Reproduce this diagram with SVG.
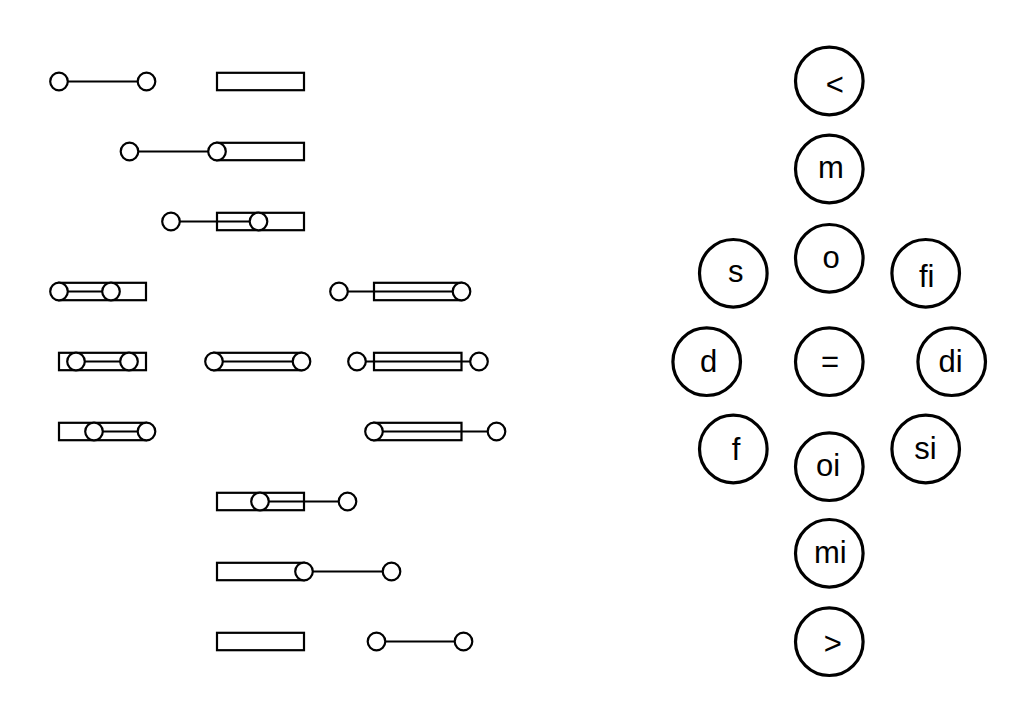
<svg xmlns="http://www.w3.org/2000/svg" width="1019" height="716" viewBox="0 0 1019 716">
<style>
.b{fill:#fff;stroke:#000;stroke-width:2.2}
.a{stroke:#000;stroke-width:2.2;fill:none}
.p{fill:#fff;stroke:#000;stroke-width:2.2}
.n{fill:#fff;stroke:#000;stroke-width:3.2}
.t{font-family:"Liberation Sans",Arial,sans-serif;font-size:31px;fill:#000;text-anchor:middle}
</style>
<rect width="1019" height="716" fill="#fff"/>
<g id="intervals">
<g id="r-before"><rect class="b" x="217" y="72.8" width="87" height="17.4"/><line class="a" x1="59" y1="81.5" x2="146.5" y2="81.5"/><circle class="p" cx="59" cy="81.5" r="8.8"/><circle class="p" cx="146.5" cy="81.5" r="8.8"/></g>
<g id="r-meets"><rect class="b" x="217" y="142.8" width="87" height="17.4"/><line class="a" x1="129.5" y1="151.5" x2="217" y2="151.5"/><circle class="p" cx="129.5" cy="151.5" r="8.8"/><circle class="p" cx="217" cy="151.5" r="8.8"/></g>
<g id="r-overlaps"><rect class="b" x="217" y="212.8" width="87" height="17.4"/><line class="a" x1="171" y1="221.5" x2="258.5" y2="221.5"/><circle class="p" cx="171" cy="221.5" r="8.8"/><circle class="p" cx="258.5" cy="221.5" r="8.8"/></g>
<g id="r-starts"><rect class="b" x="59" y="282.8" width="87" height="17.4"/><line class="a" x1="59" y1="291.5" x2="111" y2="291.5"/><circle class="p" cx="59" cy="291.5" r="8.8"/><circle class="p" cx="111" cy="291.5" r="8.8"/></g>
<g id="r-finishedby"><rect class="b" x="374" y="282.8" width="87.5" height="17.4"/><line class="a" x1="339" y1="291.5" x2="461.5" y2="291.5"/><circle class="p" cx="339" cy="291.5" r="8.8"/><circle class="p" cx="461.5" cy="291.5" r="8.8"/></g>
<g id="r-during"><rect class="b" x="59" y="352.8" width="87" height="17.4"/><line class="a" x1="76" y1="361.5" x2="129" y2="361.5"/><circle class="p" cx="76" cy="361.5" r="8.8"/><circle class="p" cx="129" cy="361.5" r="8.8"/></g>
<g id="r-equal"><rect class="b" x="214" y="352.8" width="87.5" height="17.4"/><line class="a" x1="214" y1="361.5" x2="301.5" y2="361.5"/><circle class="p" cx="214" cy="361.5" r="8.8"/><circle class="p" cx="301.5" cy="361.5" r="8.8"/></g>
<g id="r-contains"><rect class="b" x="374" y="352.8" width="87.5" height="17.4"/><line class="a" x1="357" y1="361.5" x2="479" y2="361.5"/><circle class="p" cx="357" cy="361.5" r="8.8"/><circle class="p" cx="479" cy="361.5" r="8.8"/></g>
<g id="r-finishes"><rect class="b" x="59" y="422.8" width="87" height="17.4"/><line class="a" x1="94" y1="431.5" x2="146.5" y2="431.5"/><circle class="p" cx="94" cy="431.5" r="8.8"/><circle class="p" cx="146.5" cy="431.5" r="8.8"/></g>
<g id="r-startedby"><rect class="b" x="374" y="422.8" width="87.5" height="17.4"/><line class="a" x1="374" y1="431.5" x2="496.5" y2="431.5"/><circle class="p" cx="374" cy="431.5" r="8.8"/><circle class="p" cx="496.5" cy="431.5" r="8.8"/></g>
<g id="r-overlappedby"><rect class="b" x="217" y="492.8" width="87" height="17.4"/><line class="a" x1="260" y1="501.5" x2="347.5" y2="501.5"/><circle class="p" cx="260" cy="501.5" r="8.8"/><circle class="p" cx="347.5" cy="501.5" r="8.8"/></g>
<g id="r-metby"><rect class="b" x="217" y="562.8" width="87" height="17.4"/><line class="a" x1="304" y1="571.5" x2="391.5" y2="571.5"/><circle class="p" cx="304" cy="571.5" r="8.8"/><circle class="p" cx="391.5" cy="571.5" r="8.8"/></g>
<g id="r-after"><rect class="b" x="217" y="632.8" width="87" height="17.4"/><line class="a" x1="376.5" y1="641.5" x2="463.5" y2="641.5"/><circle class="p" cx="376.5" cy="641.5" r="8.8"/><circle class="p" cx="463.5" cy="641.5" r="8.8"/></g>
</g>
<g id="connectors"></g>
<g id="n-lt"><circle class="n" cx="829.3" cy="81" r="33.8"/><text class="t" x="834.7" y="95">&lt;</text></g>
<g id="n-m"><circle class="n" cx="829.3" cy="169" r="33.8"/><text class="t" x="830.8" y="178.3">m</text></g>
<g id="n-o"><circle class="n" cx="829.3" cy="258.3" r="33.8"/><text class="t" x="831.2" y="268.3">o</text></g>
<g id="n-s"><circle class="n" cx="733.3" cy="273.3" r="33.8"/><text class="t" x="735.8" y="281.7">s</text></g>
<g id="n-fi"><circle class="n" cx="925.7" cy="273.3" r="33.8"/><text class="t" x="926.7" y="286.7">fi</text></g>
<g id="n-d"><circle class="n" cx="706.7" cy="361.7" r="33.8"/><text class="t" x="708.7" y="371.7">d</text></g>
<g id="n-eq"><circle class="n" cx="829.3" cy="361.7" r="33.8"/><text class="t" x="830" y="372">=</text></g>
<g id="n-di"><circle class="n" cx="951.7" cy="361.7" r="33.8"/><text class="t" x="950.5" y="371.7">di</text></g>
<g id="n-f"><circle class="n" cx="733.3" cy="449" r="33.8"/><text class="t" x="736" y="460">f</text></g>
<g id="n-si"><circle class="n" cx="925.7" cy="449" r="33.8"/><text class="t" x="925.5" y="459">si</text></g>
<g id="n-oi"><circle class="n" cx="829.3" cy="466.7" r="33.8"/><text class="t" x="828" y="476">oi</text></g>
<g id="n-mi"><circle class="n" cx="829.3" cy="553.3" r="33.8"/><text class="t" x="830.3" y="562.7">mi</text></g>
<g id="n-gt"><circle class="n" cx="829.3" cy="641.7" r="33.8"/><text class="t" x="832.7" y="654">&gt;</text></g>
</svg>
